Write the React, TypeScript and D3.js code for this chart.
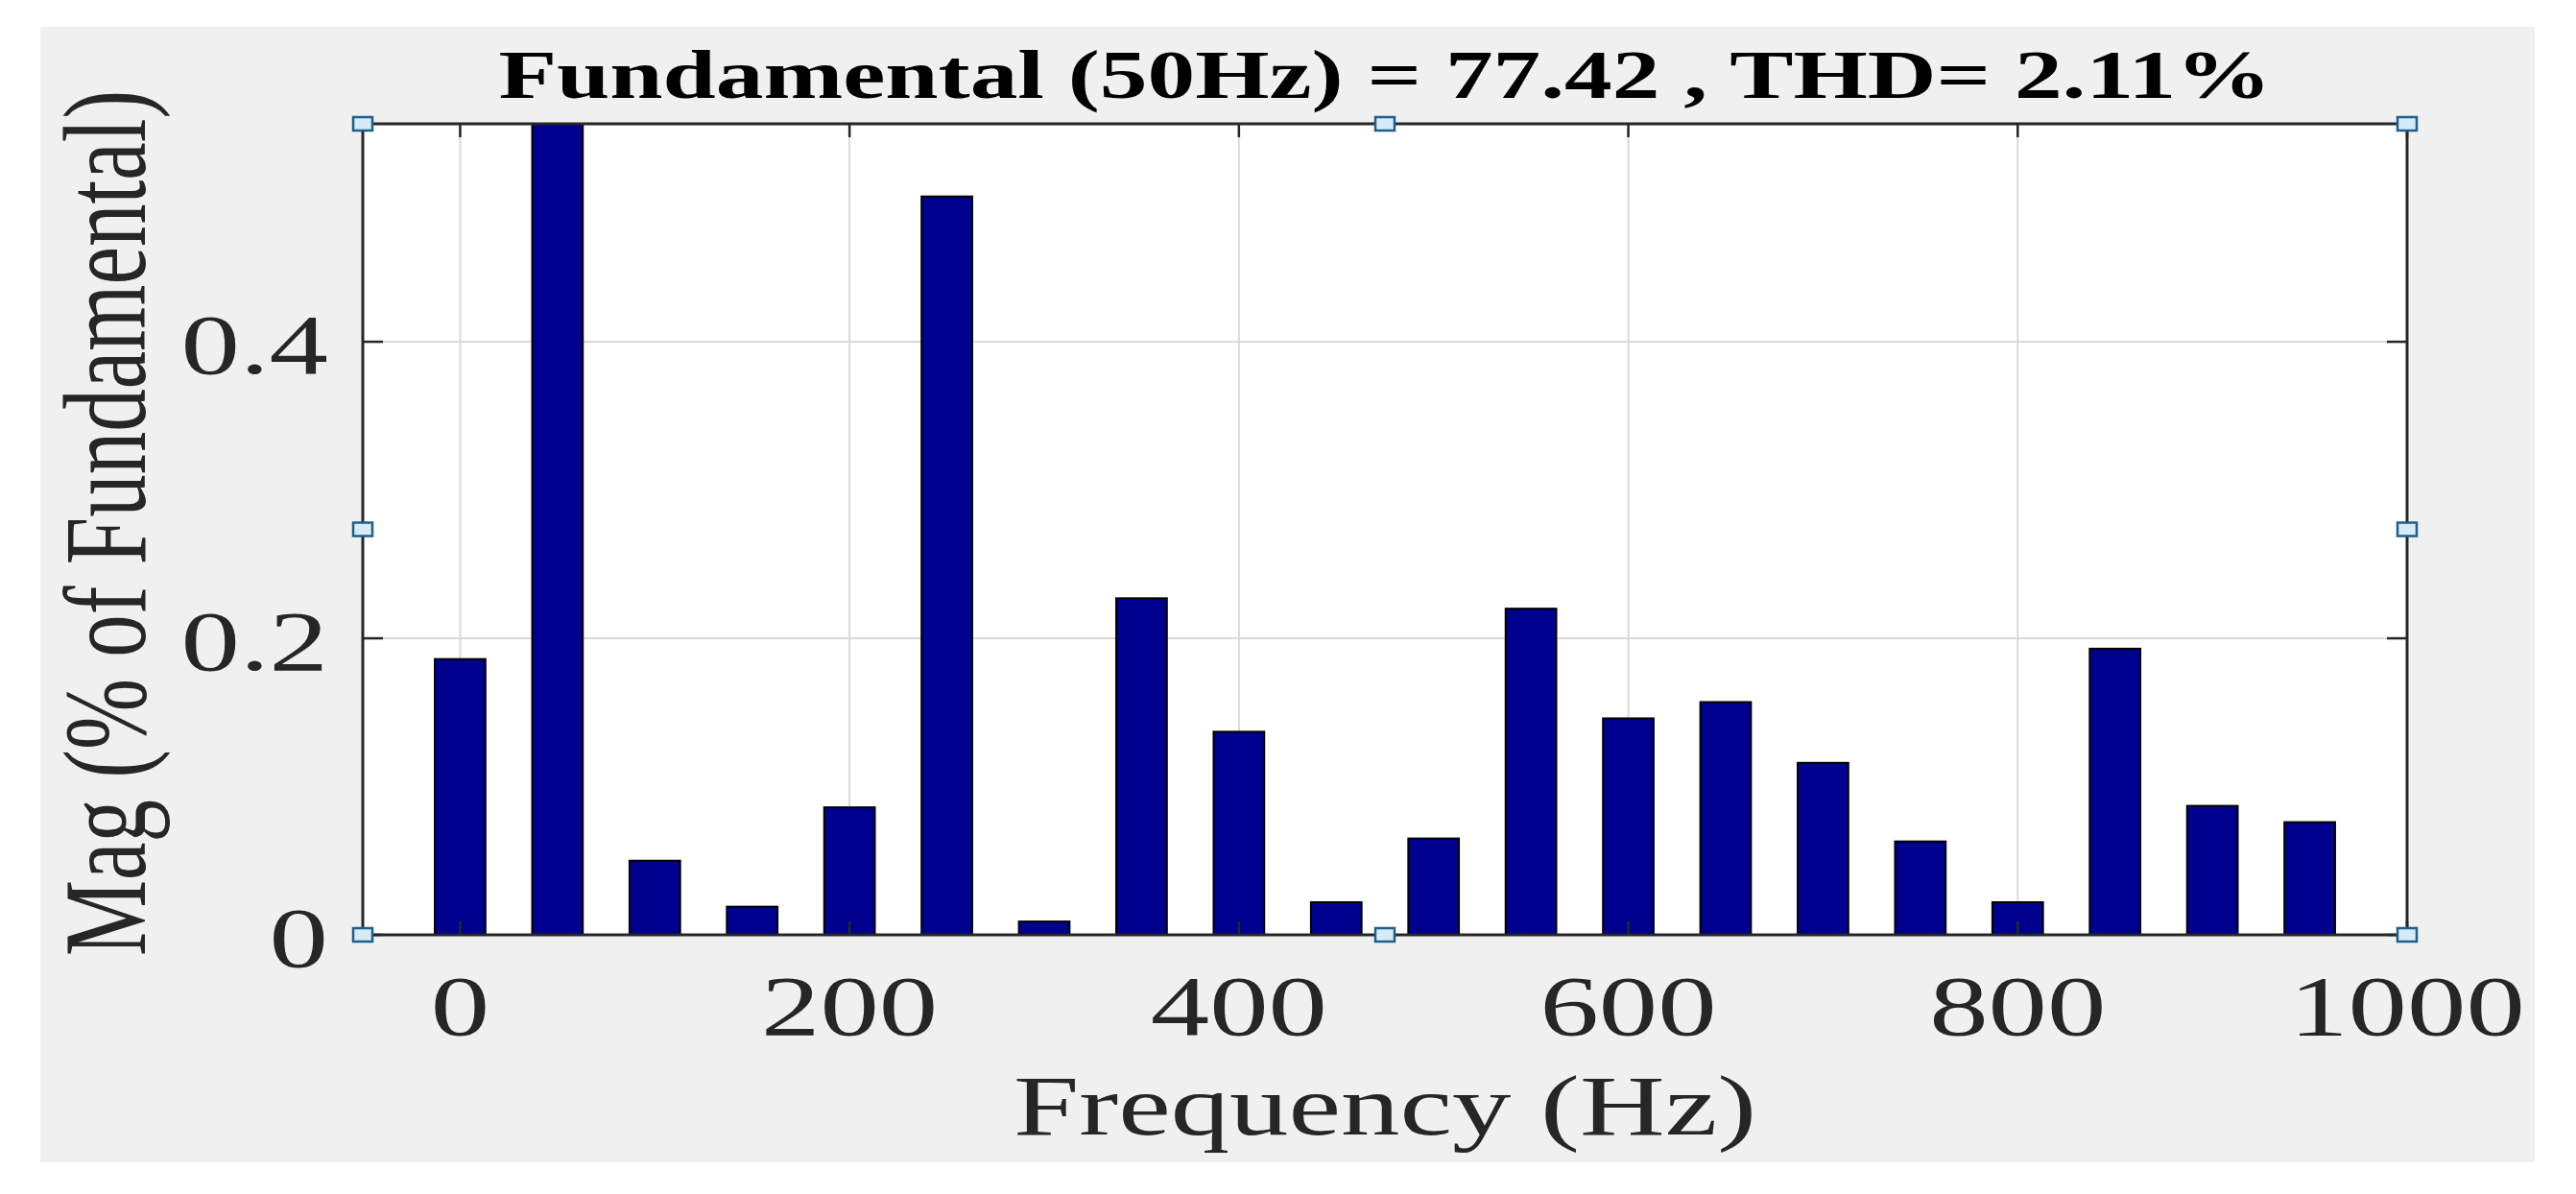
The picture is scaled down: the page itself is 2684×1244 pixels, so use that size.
import React from 'react';
import * as d3 from 'd3';

// harmonic spectrum (Hz) and magnitude, % of fundamental
const freqs = [0, 50, 100, 150, 200, 250, 300, 350, 400, 450, 500, 550, 600, 650, 700, 750, 800, 850, 900, 950];
const mags = [0.186, 100, 0.050, 0.019, 0.086, 0.498, 0.009, 0.227, 0.137, 0.022, 0.065, 0.220, 0.146, 0.157, 0.116, 0.063, 0.022, 0.193, 0.087, 0.076];
const xTicks = [0, 200, 400, 600, 800, 1000];
const yTicks = [0, 0.2, 0.4];

const titleText = 'Fundamental (50Hz) = 77.42 , THD= 2.11%';
const xLabel = 'Frequency (Hz)';
const yLabel = 'Mag (% of Fundamental)';

const W = 2684;
const H = 1244;
const plot = { left: 378, right: 2508, top: 129, bottom: 974 };
const SX = 1.38; // the source image is stretched sideways
const font = '"Liberation Serif", "Times New Roman", serif';

const App = () => {
  const x = d3.scaleLinear().domain([-50, 1000]).range([plot.left, plot.right]);
  const y = d3.scaleLinear().domain([0, 0.547]).range([plot.bottom, plot.top]);
  const barW = x(26) - x(0);
  const midX = (plot.left + plot.right) / 2;
  const midY = (plot.top + plot.bottom) / 2;

  const handles = [
    [plot.left, plot.top], [midX, plot.top], [plot.right, plot.top],
    [plot.left, midY], [plot.right, midY],
    [plot.left, plot.bottom], [midX, plot.bottom], [plot.right, plot.bottom],
  ];

  return (
    <svg width={W} height={H} style={{ position: 'absolute', left: 0, top: 0, background: '#fff' }}>
      <defs>
        <clipPath id="plotClip">
          <rect x={plot.left} y={plot.top} width={plot.right - plot.left} height={plot.bottom - plot.top} />
        </clipPath>
      </defs>
      <rect x={42} y={28} width={2641 - 42} height={1211 - 28} fill="#f0f0f0" />
      <rect x={plot.left} y={plot.top} width={plot.right - plot.left} height={plot.bottom - plot.top} fill="#fff" />

      {/* grid */}
      {xTicks.map(t => (
        <line key={'gx' + t} x1={x(t)} x2={x(t)} y1={plot.top} y2={plot.bottom} stroke="#d9d9d9" strokeWidth={2} />
      ))}
      {yTicks.map(t => (
        <line key={'gy' + t} x1={plot.left} x2={plot.right} y1={y(t)} y2={y(t)} stroke="#d9d9d9" strokeWidth={2} />
      ))}

      {/* bars */}
      <g clipPath="url(#plotClip)">
        {freqs.map((f, i) => (
          <rect key={f} x={x(f) - barW / 2} y={y(mags[i])} width={barW} height={plot.bottom - y(mags[i])}
            fill="#00008f" stroke="#000" strokeWidth={2} />
        ))}
      </g>

      {/* ticks */}
      {xTicks.map(t => (
        <g key={'tx' + t} stroke="#262626" strokeWidth={2.5}>
          <line x1={x(t)} x2={x(t)} y1={plot.bottom} y2={plot.bottom - 14} />
          <line x1={x(t)} x2={x(t)} y1={plot.top} y2={plot.top + 14} />
        </g>
      ))}
      {yTicks.map(t => (
        <g key={'ty' + t} stroke="#262626" strokeWidth={2.5}>
          <line x1={plot.left} x2={plot.left + 21} y1={y(t)} y2={y(t)} />
          <line x1={plot.right} x2={plot.right - 21} y1={y(t)} y2={y(t)} />
        </g>
      ))}

      {/* frame */}
      <rect x={plot.left} y={plot.top} width={plot.right - plot.left} height={plot.bottom - plot.top}
        fill="none" stroke="#262626" strokeWidth={3} />

      {/* tick labels */}
      {xTicks.map(t => (
        <text key={'lx' + t} transform={`translate(${x(t)},1078) scale(${SX},1)`} textAnchor="middle"
          fontFamily={font} fontSize={89} fill="#262626">{t}</text>
      ))}
      {yTicks.map(t => (
        <text key={'ly' + t} transform={`translate(342,${y(t) + 33}) scale(${SX},1)`} textAnchor="end"
          fontFamily={font} fontSize={89} fill="#262626">{t === 0 ? '0' : t.toFixed(1)}</text>
      ))}

      {/* labels */}
      <text transform={`translate(${midX},1182) scale(${SX},1)`} textAnchor="middle"
        fontFamily={font} fontSize={89} fill="#262626">{xLabel}</text>
      <text transform={`translate(151,545) scale(${SX},1) rotate(-90)`} textAnchor="middle"
        fontFamily={font} fontSize={89} fill="#262626">{yLabel}</text>
      <text transform={`translate(${midX},102) scale(${SX},1)`} textAnchor="middle"
        fontFamily={font} fontSize={72} fontWeight="bold" fill="#000">{titleText}</text>

      {/* selection handles */}
      {handles.map(([hx, hy], i) => (
        <rect key={'h' + i} x={hx - 10} y={hy - 7} width={20} height={14}
          fill="#d6eaf8" stroke="#1f5f8b" strokeWidth={2.5} />
      ))}
    </svg>
  );
};

export default App;
